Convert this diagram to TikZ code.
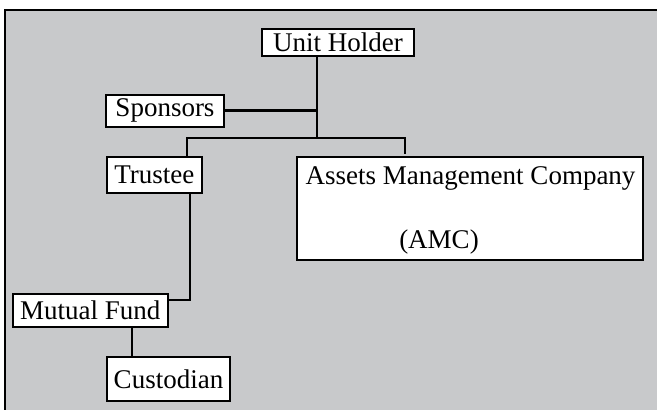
\documentclass[tikz,border=0pt]{standalone}
\usepackage{fontspec}
\setmainfont{Liberation Serif}
\definecolor{bggray}{RGB}{200,201,203}
\begin{document}
\begin{tikzpicture}[x=1pt,y=-1pt,
  box/.style={draw=black,fill=white,line width=2pt,inner sep=0pt,anchor=center,
    font=\fontsize{27}{30}\selectfont},
  txt/.style={inner sep=0pt,font=\fontsize{27}{30}\selectfont},
  link/.style={draw=black,line width=2.2pt}]
\useasboundingbox (0,0) rectangle (657,410);
\clip (0,0) rectangle (657,410);
\fill[white] (0,0) rectangle (657,410);
\draw[fill=bggray,line width=2pt] (5,9.5) rectangle (680,430);
% nodes
\node[box,minimum width=152pt,minimum height=27pt] (uh) at (338,42) {Unit Holder};
\node[box,minimum width=118pt,minimum height=32pt] (sp) at (165,110.5) {Sponsors};
\node[box,minimum width=95pt,minimum height=36pt] (tr) at (154.3,175) {Trustee};
\node[box,minimum width=346pt,minimum height=103pt] (amc) at (470,208.5) {};
\node[txt] (amct) at (470.5,178) {Assets Management Company};
\node[txt] (amcs) at (439,242) {(AMC)};
\node[box,minimum width=155.5pt,minimum height=33pt] (mf) at (90.3,310.5) {Mutual Fund\hspace{9pt}};
\node[box,minimum width=123pt,minimum height=44pt] (cu) at (168.5,379) {Custodian};
% junctions
\coordinate (j1) at (317,138);
\coordinate (j2) at (187,138);
\coordinate (j3) at (405,138);
\coordinate (j4) at (190,300);
\coordinate (j5) at (132,340);
% connectors
\draw[link] (uh.south -| j1) -- (j1);
\draw[link] (sp.east) -- (sp.east -| j1);
\draw[link] (tr.north -| j2) -- (j2) -- (j3) -- ([yshift=2.5pt]amc.north -| j3);
\draw[link] (tr.south -| j4) -- (j4) -- (j4 -| mf.east);
\draw[link] (mf.south -| j5) -- (cu.north -| j5);
\end{tikzpicture}
\end{document}
